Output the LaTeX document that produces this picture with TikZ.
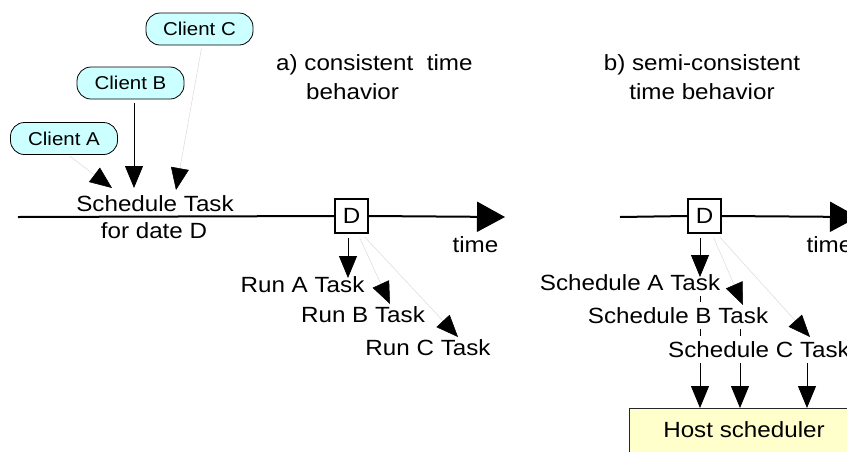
\documentclass[tikz,border=0pt]{standalone}
\usepackage{fontspec}
\setmainfont[FakeStretch=1.1]{Liberation Sans}
\usetikzlibrary{arrows.meta,backgrounds}
\definecolor{clientfill}{HTML}{CCFFFF}
\definecolor{hostfill}{HTML}{FFFFCC}
\newcommand\mainsz{\fontsize{22}{29}\selectfont}
\newcommand\clientsz{\fontsize{18.6}{22}\selectfont}
\begin{document}
\begin{tikzpicture}[x=1pt,y=-1pt,
  client/.style={draw=black, line width=0.8pt, fill=clientfill, rounded corners=14pt,
    minimum width=107pt, minimum height=32pt, inner sep=0pt, font=\clientsz},
  lbl/.style={inner sep=0pt, anchor=base, font=\mainsz},
  wlbl/.style={lbl, fill=white, text height=21.5pt, text depth=6pt},
  datebox/.style={draw=black, line width=1.8pt, fill=white, minimum width=33.2pt,
    minimum height=34.2pt, inner sep=0pt, font=\mainsz},
  timeline/.style={line width=2pt, draw=black},
  bigtip/.style={-{Triangle[length=28pt,width=30pt,color=black]}},
  darr/.style={line width=0.8pt, draw=black, -{Triangle[length=22pt,width=18pt,color=black]}},
  larr/.style={line width=0.5pt, draw=black!14, -{Triangle[length=22pt,width=18pt,color=black]}},
  host/.style={draw=black!85, line width=0.8pt, fill=hostfill, minimum width=230pt,
    minimum height=44pt, inner sep=0pt, font=\mainsz}]
\useasboundingbox (0,0) rectangle (847,451);
\begin{scope}[on background layer]
\fill[white] (0,0) rectangle (847,451);
\end{scope}
\clip (0,0) rectangle (847,451);

% ---------- part a ----------
\node[client] (cA) at (64,138.5) {Client A};
\node[client] (cB) at (130.5,83) {Client B};
\node[client] (cC) at (199.5,29) {Client C};

\node[lbl] (sched) at (155,211) {Schedule Task};
\node[lbl] (fordate) at (154,238) {for date D};

\coordinate (tA) at (112,188);
\coordinate (tB) at (134,188);
\coordinate (tC) at (176,190);
\draw[larr, shorten <=2pt] ([xshift=4pt]cA.south) -- (tA);
\draw[darr, shorten <=4pt] ([xshift=3.5pt]cB.south) -- (tB);
\draw[larr, shorten <=3pt] ([xshift=2.5pt]cC.south) -- (tC);

\node[anchor=base west, inner sep=0pt, align=left, font=\mainsz] (titleA) at (276,99)
  {a) consistent\ \ time\\\hspace*{30pt}behavior};

\coordinate (a0) at (18,217);
\coordinate (a1) at (505,217);
\node[datebox] (Da) at (351.5,216) {D};
\draw[timeline] (a0) -- (Da.west);
\draw[timeline, bigtip] (Da.east) -- (a1);
\node[lbl] (timeA) at (475.5,252) {time};

\node[lbl] (rA) at (302.5,292) {Run A Task};
\node[lbl] (rB) at (363,322) {Run B Task};
\node[lbl] (rC) at (428,355) {Run C Task};

\coordinate (rtA) at (348,278);
\coordinate (rtB) at (390,304);
\coordinate (rtC) at (458,337);
\draw[darr, shorten <=4pt] ([xshift=-3.5pt]Da.south) -- (rtA);
\draw[larr, shorten <=4pt] ([xshift=6.5pt]Da.south) -- (rtB);
\draw[larr, shorten <=4pt] ([xshift=10.5pt]Da.south) -- (rtC);

% ---------- part b ----------
\node[anchor=base, inner sep=0pt, align=center, font=\mainsz] (titleB) at (702,99)
  {b) semi-consistent\\time behavior};

\coordinate (b0) at (620,217);
\coordinate (b1) at (858,217);
\node[datebox] (Db) at (704.5,216) {D};
\draw[timeline] (b0) -- (Db.west);
\draw[timeline, bigtip] (Db.east) -- (b1);
\node[lbl] (timeB) at (829.5,252) {time};

\node[host] (host) at (744,430) {Host scheduler};
\coordinate (hA) at (700,408);
\coordinate (hB) at (740,408);
\coordinate (hC) at (807,408);

\node[wlbl] (sA) at (630,290) {Schedule A Task};
\node[wlbl] (sB) at (678,323) {Schedule B Task};
\node[wlbl] (sC) at (759,357) {Schedule C Task};

\begin{scope}[on background layer]
\draw[darr] (sA.south -| hA) -- (hA);
\draw[darr] (sB.south -| hB) -- (hB);
\draw[darr] (sC.south -| hC) -- (hC);
\end{scope}

\coordinate (stA) at (700,277);
\coordinate (stB) at (743,305);
\coordinate (stC) at (810,337);
\draw[darr, shorten <=4pt] ([xshift=-4.5pt]Db.south) -- (stA);
\draw[larr, shorten <=4pt] ([xshift=7.5pt]Db.south) -- (stB);
\draw[larr, shorten <=4pt] ([xshift=12.5pt]Db.south) -- (stC);
\end{tikzpicture}
\end{document}
